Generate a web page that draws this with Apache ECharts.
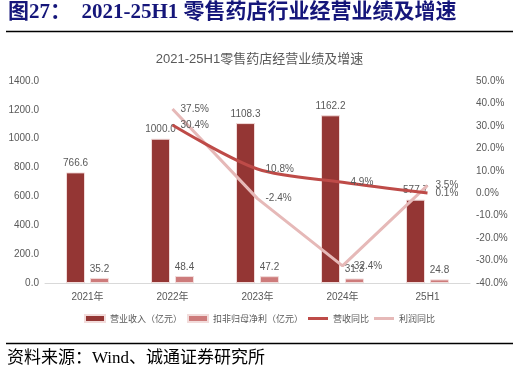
<!DOCTYPE html>
<html><head><meta charset="utf-8">
<script src="https://cdn.jsdelivr.net/npm/echarts@6/dist/echarts.min.js"></script>
<style>html,body{margin:0;padding:0;background:#fff}#c{width:519px;height:374px}</style>
</head><body><div id="c"></div>
<script>
var categories = ['2021年', '2022年', '2023年', '2024年', '25H1'];
var revenue = [766.6, 1000.0, 1108.3, 1162.2, 577.7];
var profit = [35.2, 48.4, 47.2, 31.3, 24.8];
var revenueYoY = [null, 30.4, 10.8, 4.9, 0.1];
var profitYoY = [null, 37.5, -2.4, -32.4, 3.5];
var seriesNames = ['营业收入（亿元）', '扣非归母净利（亿元）', '营收同比', '利润同比'];

var chart = echarts.init(document.getElementById('c'));
var gray = '#595959';
var labelFont = {fontFamily: 'Liberation Sans, Noto Sans CJK SC', fontSize: 10, color: gray};
var lineIcon = 'path://M0,0h20v3h-20z';
chart.setOption({
  animation: false,
  title: {
    text: '2021-25H1零售药店经营业绩及增速',
    left: 'center', top: 48,
    textStyle: {fontFamily: 'Liberation Sans, Noto Sans CJK SC', fontSize: 13, fontWeight: 'normal', color: gray}
  },
  graphic: [
    {type: 'text', left: 8, top: 2, style: {text: '图27：  2021-25H1 零售药店行业经营业绩及增速', font: 'bold 21px "Liberation Serif", "Noto Sans CJK SC"', fill: '#15167a'}},
    {type: 'line', shape: {x1: 6, y1: 31.5, x2: 513, y2: 31.5}, style: {stroke: '#000', lineWidth: 1.3}},
    {type: 'line', shape: {x1: 6, y1: 343.5, x2: 513, y2: 343.5}, style: {stroke: '#000', lineWidth: 1.3}},
    {type: 'text', left: 7, top: 350, style: {text: '资料来源：Wind、诚通证券研究所', font: '17px "Liberation Serif", "Noto Sans CJK SC"', fill: '#000'}}
  ],
  legend: {
    top: 309, left: 'center', itemWidth: 20, itemHeight: 7, itemGap: 5,
    textStyle: {fontFamily: 'Noto Sans CJK SC', fontSize: 9, color: gray},
    data: [
      {name: seriesNames[0], icon: 'rect'},
      {name: seriesNames[1], icon: 'rect'},
      {name: seriesNames[2], icon: lineIcon},
      {name: seriesNames[3], icon: lineIcon}
    ]
  },
  grid: {left: 45, right: 49, top: 81, bottom: 91},
  xAxis: {
    type: 'category', data: categories,
    axisLine: {lineStyle: {color: '#d9d9d9'}}, axisTick: {show: false},
    axisLabel: Object.assign({margin: 9}, labelFont)
  },
  yAxis: [
    {type: 'value', min: 0, max: 1400, interval: 200, splitLine: {show: false},
     axisLabel: Object.assign({margin: 6, formatter: function(v){return v.toFixed(1);}}, labelFont)},
    {type: 'value', min: -40, max: 50, interval: 10, splitLine: {show: false},
     axisLabel: Object.assign({margin: 6, formatter: function(v){return v.toFixed(1) + '%';}}, labelFont)}
  ],
  series: [
    {name: seriesNames[0], type: 'bar', data: revenue, barWidth: 19, barGap: '26%',
     itemStyle: {color: '#943634', borderColor: '#f2dcdb', borderWidth: 1},
     label: Object.assign({show: true, position: 'top', distance: 4, formatter: function(p){return p.value.toFixed(1);}}, labelFont)},
    {name: seriesNames[1], type: 'bar', data: profit, barWidth: 19,
     itemStyle: {color: '#cd7b7b', borderColor: '#f2dcdb', borderWidth: 1},
     label: Object.assign({show: true, position: 'top', distance: 4, formatter: function(p){return p.value.toFixed(1);}}, labelFont)},
    {name: seriesNames[2], type: 'line', yAxisIndex: 1, data: revenueYoY, smooth: 0.3,
     symbol: 'circle', symbolSize: 0.01, showSymbol: true, z: 5,
     lineStyle: {color: '#be4b48', width: 3}, itemStyle: {color: '#be4b48'},
     label: Object.assign({show: true, position: 'right', distance: 8, formatter: function(p){return p.value.toFixed(1) + '%';}}, labelFont)},
    {name: seriesNames[3], type: 'line', yAxisIndex: 1, data: profitYoY,
     symbol: 'circle', symbolSize: 0.01, showSymbol: true, z: 4,
     lineStyle: {color: '#e6b9b8', width: 3}, itemStyle: {color: '#e6b9b8'},
     label: Object.assign({show: true, position: 'right', distance: 8, formatter: function(p){return p.value.toFixed(1) + '%';}}, labelFont)}
  ]
});
</script></body></html>
